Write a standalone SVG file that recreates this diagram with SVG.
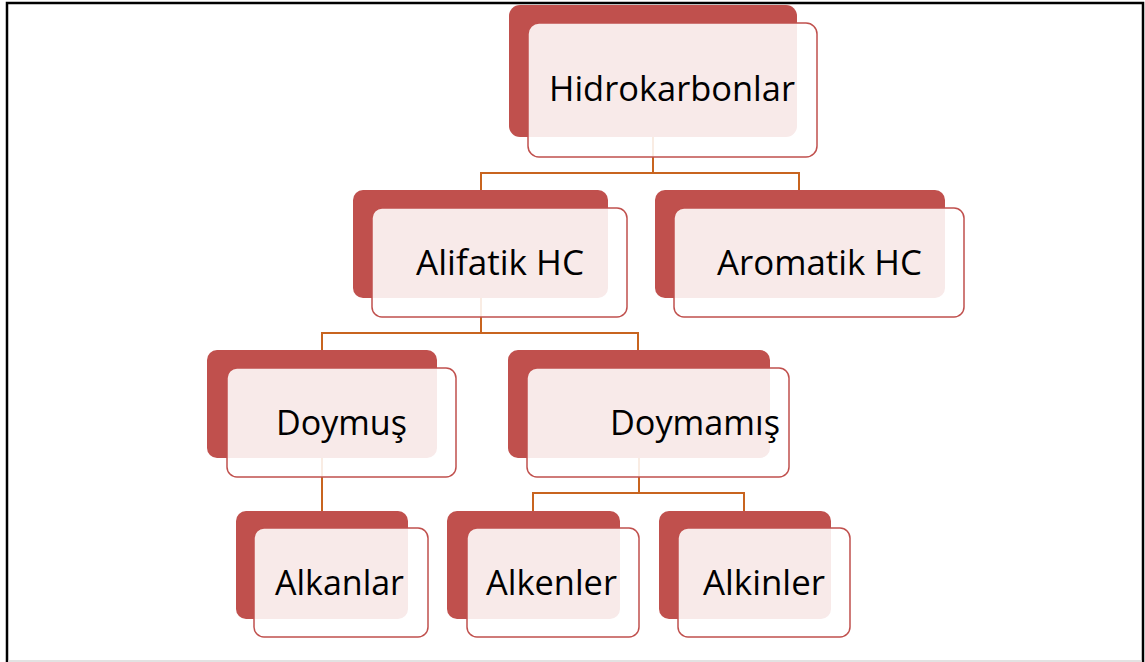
<svg xmlns="http://www.w3.org/2000/svg" width="1145" height="662" viewBox="0 0 1145 662">
<style>
.back{fill:#c0504d;}
.front{fill:#ffffff;fill-opacity:0.88;stroke:#c0504d;stroke-width:1.5;}
.lbl{font-family:"Open Sans","Liberation Sans",sans-serif;font-size:34px;fill:#000000;lengthAdjust:spacingAndGlyphs;}
.conn{fill:none;stroke:#c8641f;stroke-width:2;}
</style>
<rect x="0" y="0" width="1145" height="662" fill="#ffffff"/>
<rect x="7" y="3" width="1136" height="680" fill="none" stroke="#000000" stroke-width="2.5"/>
<line x1="8" y1="661" x2="1142" y2="661" stroke="#d9d9d9" stroke-width="1.5"/>
<g id="connectors">
<path class="conn" d="M653,137 V173 M481,190 V173 H799 V190"/>
<path class="conn" d="M481,298 V333 M322,350 V333 H638 V350"/>
<path class="conn" d="M322,458 V511"/>
<path class="conn" d="M639,458 V493 M533,511 V493 H744 V511"/>
</g>
<g id="n-hidrokarbonlar">
<rect class="back" x="509" y="5" width="288" height="132" rx="11"/>
<rect class="front" x="528" y="23" width="289" height="134" rx="11"/>
<text class="lbl" x="549" y="101" textLength="246" lengthAdjust="spacingAndGlyphs">Hidrokarbonlar</text>
</g>
<g id="n-alifatik">
<rect class="back" x="353" y="190" width="255" height="108" rx="10"/>
<rect class="front" x="372" y="208" width="255" height="109" rx="10"/>
<text class="lbl" x="416" y="275" textLength="168" lengthAdjust="spacingAndGlyphs">Alifatik HC</text>
</g>
<g id="n-aromatik">
<rect class="back" x="655" y="190" width="290" height="108" rx="10"/>
<rect class="front" x="674" y="208" width="290" height="109" rx="10"/>
<text class="lbl" x="717" y="275" textLength="205" lengthAdjust="spacingAndGlyphs">Aromatik HC</text>
</g>
<g id="n-doymus">
<rect class="back" x="207" y="350" width="230" height="108" rx="10"/>
<rect class="front" x="227" y="368" width="229" height="109" rx="10"/>
<text class="lbl" x="276" y="435" textLength="131" lengthAdjust="spacingAndGlyphs">Doymuş</text>
</g>
<g id="n-doymamis">
<rect class="back" x="508" y="350" width="262" height="108" rx="10"/>
<rect class="front" x="527" y="368" width="262" height="109" rx="10"/>
<text class="lbl" x="610" y="435" textLength="170" lengthAdjust="spacingAndGlyphs">Doymamış</text>
</g>
<g id="n-alkanlar">
<rect class="back" x="236" y="511" width="172" height="108" rx="10"/>
<rect class="front" x="254" y="528" width="174" height="109" rx="10"/>
<text class="lbl" x="275" y="595" textLength="129" lengthAdjust="spacingAndGlyphs">Alkanlar</text>
</g>
<g id="n-alkenler">
<rect class="back" x="447" y="511" width="173" height="108" rx="10"/>
<rect class="front" x="467" y="528" width="172" height="109" rx="10"/>
<text class="lbl" x="486" y="595" textLength="131" lengthAdjust="spacingAndGlyphs">Alkenler</text>
</g>
<g id="n-alkinler">
<rect class="back" x="659" y="511" width="172" height="108" rx="10"/>
<rect class="front" x="678" y="528" width="172" height="109" rx="10"/>
<text class="lbl" x="703" y="595" textLength="122" lengthAdjust="spacingAndGlyphs">Alkinler</text>
</g>
</svg>
